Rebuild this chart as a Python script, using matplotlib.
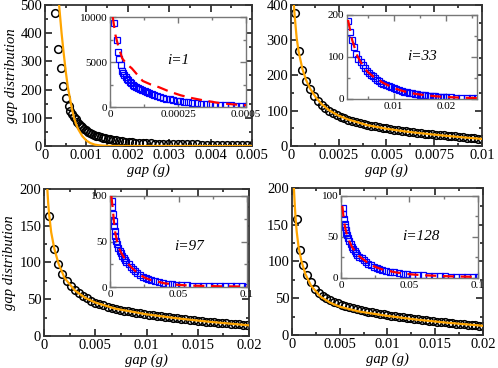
import numpy as np
import matplotlib
matplotlib.use('Agg')
import matplotlib.pyplot as plt
from matplotlib.ticker import MultipleLocator, AutoMinorLocator, FormatStrFormatter

plt.rcParams['font.family'] = ['Liberation Serif', 'DejaVu Serif']
plt.rcParams['mathtext.fontset'] = 'stix'

#----------------------------------------- i=1
x1 = [0.00024, 0.00031, 0.00038, 0.00043, 0.00051, 0.00057, 0.00061, 0.00066, 0.0007, 0.00074,
      0.00078, 0.00082, 0.00086, 0.0009, 0.00094, 0.00098, 0.00103, 0.00108, 0.00113, 0.00118,
      0.00123, 0.00128, 0.00134, 0.0014, 0.00146, 0.00152, 0.00158, 0.00165, 0.00172, 0.00179,
      0.00186, 0.00194, 0.00202, 0.0021, 0.00218, 0.00227, 0.00236, 0.00245, 0.00255, 0.00265,
      0.00275, 0.00286, 0.00297, 0.00308, 0.0032, 0.00332, 0.00344, 0.00356, 0.00368, 0.0038,
      0.00392, 0.00404, 0.00416, 0.00428, 0.0044, 0.00452, 0.00464, 0.00476, 0.00488, 0.005]
y1 = [472, 344, 277, 213, 170, 142, 124, 112, 103, 94,
      85, 78, 72, 66, 61, 56, 51, 47, 43, 40,
      37, 34, 31, 29, 27, 25, 23, 21, 19.5, 18,
      16.5, 15, 14, 13, 12, 11, 10.3, 9.7, 9.1, 8.6,
      8.1, 7.7, 7.3, 6.9, 6.6, 6.3, 6.0, 5.7, 5.4, 5.2,
      5.0, 4.8, 4.6, 4.4, 4.2, 4.0, 3.9, 3.8, 3.7, 3.6]
xf1 = [0.0003, 0.00034, 0.0004, 0.00045, 0.0005, 0.00055, 0.0006, 0.00065, 0.0007, 0.00075, 0.0008,
       0.0009, 0.001, 0.0011, 0.0012, 0.0013, 0.0014, 0.0016, 0.002, 0.003, 0.004, 0.005]
yf1 = [580, 500, 400, 330, 265, 210, 170, 132, 100, 78, 60, 35, 19, 10, 5, 2.5, 1.2, 0.3, 0.05, 0, 0, 0]
xs1 = [0.000015, 0.000026, 0.000029, 0.000033, 0.00004, 0.000044, 0.000048, 0.000052, 0.000057, 0.000062,
       0.000067, 0.000072, 0.000078, 0.000084, 0.00009, 0.000097, 0.000104, 0.000111, 0.000119, 0.000127,
       0.000135, 0.000144, 0.000153, 0.000163, 0.000173, 0.000184, 0.000195, 0.000207, 0.000219, 0.000232,
       0.000245, 0.000259, 0.000273, 0.000288, 0.000303, 0.000319, 0.000335, 0.000352, 0.000369, 0.000387,
       0.000405, 0.000424, 0.000443, 0.000462, 0.000481, 0.0005]
ys1 = [9330, 7440, 6100, 5330, 4670, 4000, 3750, 3550, 3350, 3150,
       2950, 2800, 2620, 2450, 2320, 2200, 2080, 1980, 1890, 1780,
       1670, 1560, 1450, 1340, 1230, 1110, 1010, 920, 840, 760,
       690, 630, 580, 520, 470, 420, 380, 340, 300, 260,
       230, 200, 170, 150, 130, 110]
xr1 = [0.00001, 0.00002, 0.00003, 0.000045, 0.00006, 0.00008, 0.0001, 0.00012, 0.00015, 0.00018,
       0.00022, 0.00026, 0.0003, 0.00035, 0.0004, 0.00045, 0.0005]
yr1 = [10000, 8000, 6800, 5400, 4800, 4300, 3600, 2900, 2500, 2200, 1700, 1300, 1000, 700, 450, 300, 200]

#----------------------------------------- i=33
x2 = [0.0002, 0.0004, 0.0006, 0.0008, 0.001, 0.0012, 0.0014, 0.0016, 0.0018, 0.002,
      0.0022, 0.0024, 0.0026, 0.0028, 0.003, 0.0032, 0.0034, 0.0036, 0.0038, 0.004,
      0.0042, 0.0044, 0.0046, 0.0048, 0.005, 0.0052, 0.0054, 0.0056, 0.0058, 0.006,
      0.0062, 0.0064, 0.0066, 0.0068, 0.007, 0.0072, 0.0074, 0.0076, 0.0078, 0.008,
      0.0082, 0.0084, 0.0086, 0.0088, 0.009, 0.0092, 0.0094, 0.0096, 0.0098, 0.01]
y2 = [378, 270, 215, 185, 163, 143, 128, 117, 108, 100,
      94, 88, 83, 79, 75, 71, 68, 65, 62, 60,
      57.5, 55.5, 53.5, 51.5, 50, 48, 46.5, 45, 43.5, 42,
      40.5, 39, 37.5, 36, 35, 34, 33, 32, 31, 30,
      29, 28, 27, 26, 25, 24, 23, 22, 21, 20]
xf2 = [0.00015, 0.0002, 0.0003, 0.0004, 0.0006, 0.0008, 0.001, 0.0013, 0.0016, 0.002,
       0.0025, 0.003, 0.004, 0.005, 0.006, 0.007, 0.008, 0.009, 0.01]
yf2 = [400, 365, 305, 268, 218, 186, 163, 138, 119, 101, 86, 75, 59, 49, 41, 35, 29.5, 24.5, 20]
xs2 = [0.0012, 0.0016, 0.002, 0.0024, 0.0028, 0.0032, 0.0036, 0.004, 0.0044, 0.0048,
       0.0052, 0.0056, 0.006, 0.0064, 0.0068, 0.0072, 0.0076, 0.008, 0.0085, 0.009,
       0.0095, 0.01, 0.0105, 0.011, 0.0115, 0.012, 0.0125, 0.013, 0.0135, 0.014,
       0.0145, 0.015, 0.0155, 0.016, 0.0165, 0.017, 0.0175, 0.018, 0.0185, 0.019,
       0.0195, 0.02, 0.021, 0.022, 0.023, 0.024, 0.025, 0.026]
ys2 = [185, 160, 140, 124, 108, 96, 87, 80, 73, 67,
       62, 58, 54, 50, 46, 42, 39, 36, 33, 30,
       27.5, 25, 23, 21, 19, 17.5, 16, 14.5, 13.3, 12.2,
       11.2, 10.3, 9.5, 8.7, 8, 7.4, 6.8, 6.3, 5.8, 5.4,
       5, 4.6, 4, 3.5, 3, 2.6, 2.3, 2]
xr2 = [0.0012, 0.002, 0.003, 0.004, 0.005, 0.006, 0.007, 0.008, 0.01, 0.012, 0.014, 0.016, 0.018,
       0.02, 0.022, 0.024, 0.026]
yr2 = [188, 140, 102, 80, 64, 54, 46, 38, 26, 18, 12.5, 9, 6.5, 4.8, 3.6, 2.8, 2.2]

#----------------------------------------- i=97
x3 = [0.0005, 0.001, 0.0014, 0.0018, 0.0022, 0.0026, 0.003, 0.0034, 0.0038, 0.0042,
      0.0046, 0.005, 0.0054, 0.0058, 0.0062, 0.0066, 0.007, 0.0074, 0.0078, 0.0082,
      0.0086, 0.009, 0.0094, 0.0098, 0.0102, 0.0106, 0.011, 0.0114, 0.0118, 0.0122,
      0.0126, 0.013, 0.0134, 0.0138, 0.0142, 0.0146, 0.015, 0.0154, 0.0158, 0.0162,
      0.0166, 0.017, 0.0174, 0.0178, 0.0182, 0.0186, 0.019, 0.0194, 0.0198]
y3 = [163, 119, 98, 84, 75, 68, 62, 58, 54, 51,
      48, 45.5, 43.5, 41.5, 40, 38.5, 37, 35.8, 34.6, 33.5,
      32.5, 31.5, 30.6, 29.8, 29, 28.2, 27.4, 26.6, 25.9, 25.2,
      24.5, 23.8, 23.2, 22.6, 22, 21.4, 20.8, 20.2, 19.7, 19.2,
      18.7, 18.2, 17.7, 17.2, 16.7, 16.2, 15.7, 15.2, 14.7]
xf3 = [0.0003, 0.0004, 0.0005, 0.0007, 0.001, 0.0014, 0.002, 0.003, 0.004, 0.005, 0.007, 0.01,
       0.013, 0.016, 0.02]
yf3 = [205, 182, 165, 141, 119, 99, 79, 62, 52, 45.5, 37, 29.5, 24, 19.5, 14.5]
xs3 = [0.0015, 0.0018, 0.0022, 0.0026, 0.003, 0.0035, 0.004, 0.0045, 0.005, 0.006,
       0.007, 0.008, 0.009, 0.01, 0.011, 0.012, 0.0135, 0.015, 0.0165, 0.018,
       0.02, 0.022, 0.024, 0.026, 0.028, 0.03, 0.033, 0.036, 0.039, 0.042,
       0.045, 0.048, 0.052, 0.056, 0.06, 0.064, 0.068, 0.072, 0.076, 0.08,
       0.084, 0.088, 0.092, 0.096, 0.1]
ys3 = [95, 88, 80, 73, 67, 61, 56, 51, 47, 43,
       40, 37, 34, 32, 30, 28, 25, 22, 20, 18,
       15.5, 13.5, 11.5, 10, 8.7, 7.6, 6.2, 5.1, 4.2, 3.5,
       3, 2.6, 2.2, 1.9, 1.6, 1.4, 1.2, 1.1, 1, 0.9,
       0.8, 0.7, 0.65, 0.6, 0.55]
xr3 = [0.001, 0.002, 0.003, 0.004, 0.006, 0.008, 0.01, 0.013, 0.016, 0.02, 0.025, 0.03, 0.04,
       0.05, 0.06, 0.08, 0.1]
yr3 = [100, 86, 70, 58, 45, 38, 33, 26, 21, 15.5, 10.5, 7.5, 4, 2.3, 1.5, 0.8, 0.5]

#----------------------------------------- i=128
x4 = [0.00052, 0.00087, 0.0012, 0.0016, 0.002, 0.0024, 0.0028, 0.0032, 0.0036, 0.004,
      0.0044, 0.0048, 0.0052, 0.0056, 0.006, 0.0064, 0.0068, 0.0072, 0.0076, 0.008,
      0.0084, 0.0088, 0.0092, 0.0096, 0.01, 0.0104, 0.0108, 0.0112, 0.0116, 0.012,
      0.0124, 0.0128, 0.0132, 0.0136, 0.014, 0.0144, 0.0148, 0.0152, 0.0156, 0.016,
      0.0164, 0.0168, 0.0172, 0.0176, 0.018, 0.0184, 0.0188, 0.0192, 0.0196, 0.02]
y4 = [158, 115, 95, 81, 72, 63, 57, 53, 50, 47,
      45, 43, 41, 39.5, 38, 36.6, 35.3, 34, 32.8, 31.7,
      30.7, 29.8, 28.9, 28, 27.2, 26.4, 25.6, 24.8, 24, 23.3,
      22.6, 21.9, 21.2, 20.6, 20, 19.4, 18.8, 18.2, 17.6, 17,
      16.5, 16, 15.5, 15, 14.5, 14, 13.5, 13, 12.5, 12]
xf4 = [0.0002, 0.0003, 0.0004, 0.0005, 0.0007, 0.001, 0.0014, 0.002, 0.003, 0.004, 0.005, 0.007,
       0.01, 0.013, 0.016, 0.02]
yf4 = [200, 175, 155, 140, 119, 100, 83, 67, 52, 44, 38.5, 32, 26, 21, 17, 12.5]
xs4 = xs3
ys4 = [85, 78, 72, 66, 62, 58, 55, 52, 49, 45,
       41, 38, 35, 32.5, 30.5, 28.5, 26, 24, 22, 20,
       17.5, 15.5, 14, 12.5, 11.2, 10, 8.8, 7.8, 6.9, 6.1,
       5.4, 4.8, 4.2, 3.7, 3.2, 2.8, 2.5, 2.2, 2, 1.8,
       1.6, 1.5, 1.4, 1.3, 1.2]
xr4 = [0.001, 0.002, 0.003, 0.004, 0.006, 0.008, 0.01, 0.013, 0.016, 0.02, 0.025, 0.03, 0.04,
       0.05, 0.06, 0.08, 0.1]
yr4 = [88, 72, 62, 55, 45, 38, 33, 27, 23, 18, 13.5, 10.5, 6.8, 4.6, 3.3, 2, 1.3]

labels = ['i=1', 'i=33', 'i=97', 'i=128']

#-----------------------------------------
fig = plt.figure(figsize=(4.98, 3.68), dpi=100)

def style(ax, xmaj, ymaj, size, col, w):
    ax.xaxis.set_major_locator(MultipleLocator(xmaj))
    ax.yaxis.set_major_locator(MultipleLocator(ymaj))
    ax.xaxis.set_minor_locator(AutoMinorLocator(2))
    ax.yaxis.set_minor_locator(AutoMinorLocator(2))
    ax.xaxis.set_major_formatter(FormatStrFormatter('%g'))
    ax.yaxis.set_major_formatter(FormatStrFormatter('%g'))
    ax.tick_params(which='both', direction='in', top=True, right=True, labelsize=size,
                   color=col, width=w, pad=2)
    ax.tick_params(which='major', length=5 if size > 9 else 4)
    ax.tick_params(which='minor', length=2.5 if size > 9 else 2)
    for s in ax.spines.values():
        s.set_color(col)
        s.set_linewidth(w)

main_pos = [[0.0904, 0.6033, 0.4157, 0.3832], [0.5843, 0.6033, 0.3835, 0.3832],
            [0.0884, 0.0870, 0.4116, 0.3995], [0.5863, 0.0897, 0.3835, 0.3995]]
ins_pos = [[0.2209, 0.7092, 0.2731, 0.2446], [0.6968, 0.7310, 0.2610, 0.2283],
           [0.2209, 0.2201, 0.2751, 0.2473], [0.6847, 0.2446, 0.2751, 0.2228]]
main_lim = [(0.005, 500), (0.01, 400), (0.02, 200), (0.02, 200)]
main_tick = [(0.001, 100), (0.0025, 100), (0.005, 50), (0.005, 50)]
ins_xlim = [(0, 0.0005), (0.001, 0.026), (0, 0.1), (0, 0.1)]
ins_ylim = [10000, 200, 100, 100]
ins_tick = [(0.00025, 5000), (0.01, 100), (0.05, 50), (0.05, 50)]
lab_pos = [(0.5, 0.52), (0.58, 0.5), (0.58, 0.45), (0.58, 0.5)]

circ = [(x1, y1), (x2, y2), (x3, y3), (x4, y4)]
fits = [(xf1, yf1), (xf2, yf2), (xf3, yf3), (xf4, yf4)]
sq = [(xs1, ys1), (xs2, ys2), (xs3, ys3), (xs4, ys4)]
red = [(xr1, yr1), (xr2, yr2), (xr3, yr3), (xr4, yr4)]

for k in range(4):
    ax = fig.add_axes(main_pos[k])
    ax.plot(fits[k][0], fits[k][1], color='#ffa500', lw=1.6, zorder=3)
    ax.plot(circ[k][0], circ[k][1], 'o', mfc='none', mec='black', mew=1.1, ms=5.5, zorder=2)
    ax.set_xlim(0, main_lim[k][0])
    ax.set_ylim(0, main_lim[k][1])
    style(ax, main_tick[k][0], main_tick[k][1], 10.5, '#333333', 1.3)
    ax.set_xlabel('gap (g)', fontsize=10.5, style='italic', labelpad=1)
    if k % 2 == 0:
        ax.set_ylabel('gap distribution', fontsize=10.5, style='italic', labelpad=2)

    ai = fig.add_axes(ins_pos[k])
    ai.set_facecolor('white')
    ai.plot(sq[k][0], sq[k][1], 's', mfc='none', mec='blue', mew=0.9, ms=3.8, zorder=2)
    ai.plot(red[k][0], red[k][1], color='red', lw=1.6, dashes=(5, 3), zorder=3)
    ai.set_xlim(*ins_xlim[k])
    ai.set_ylim(0, ins_ylim[k])
    style(ai, ins_tick[k][0], ins_tick[k][1], 8, '#777777', 1.0)
    ai.text(lab_pos[k][0], lab_pos[k][1], labels[k], transform=ai.transAxes,
            ha='center', va='center', fontsize=11, style='italic')

fig.savefig('out.png', dpi=100)
